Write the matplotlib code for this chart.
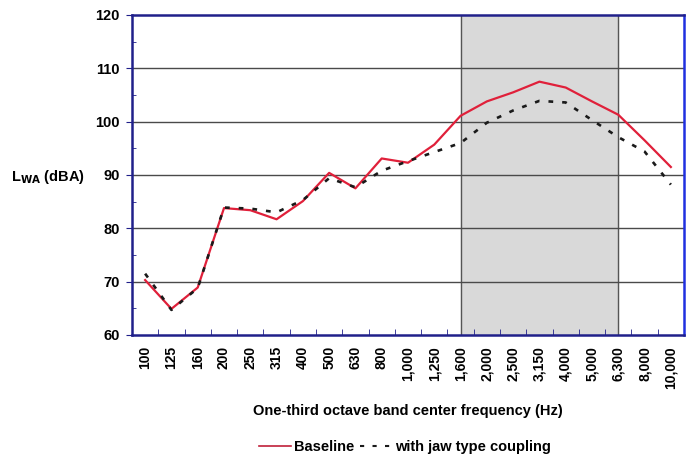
import matplotlib
matplotlib.use("Agg")
import matplotlib.pyplot as plt
from matplotlib.lines import Line2D

plt.rcParams['font.family'] = ['Liberation Sans', 'DejaVu Sans']

freq_labels = ["100", "125", "160", "200", "250", "315", "400", "500", "630", "800",
               "1,000", "1,250", "1,600", "2,000", "2,500", "3,150", "4,000", "5,000",
               "6,300", "8,000", "10,000"]
baseline = [70.3, 64.9, 68.9, 83.8, 83.4, 81.7, 85.1, 90.4, 87.5, 93.1, 92.3, 95.7,
            101.1, 103.8, 105.5, 107.5, 106.4, 103.8, 101.3, 96.5, 91.5]
jaw = [71.5, 64.7, 68.8, 83.9, 83.7, 83.0, 85.3, 89.4, 87.7, 90.8, 92.6, 94.3,
       96.0, 99.8, 102.1, 103.9, 103.6, 100.3, 97.1, 94.4, 88.2]
shade_start = "1,600"
shade_end = "6,300"

fig = plt.figure(figsize=(6.91, 4.59), dpi=100)
ax = fig.add_axes([132/691, 1-335/459, (684-132)/691, (335-15)/459])

x = list(range(len(freq_labels)))
i0 = freq_labels.index(shade_start)
i1 = freq_labels.index(shade_end)
ax.axvspan(i0, i1, color='#d9d9d9', zorder=0)
ax.axvline(i0, color='#555555', lw=1, zorder=1)
ax.axvline(i1, color='#555555', lw=1, zorder=1)

for yv in [70, 80, 90, 100, 110]:
    ax.axhline(yv, color='#4a4a4a', lw=1, zorder=1)

ax.plot(x, baseline, color='#e0203a', lw=1.6, zorder=3)
ax.plot(x, jaw, color='#1a1a1a', lw=1.9, dashes=(1.8, 3.4), zorder=4)

ax.set_xlim(-0.5, len(freq_labels) - 0.5)
ax.set_ylim(60, 120)
ax.set_yticks(range(60, 121, 10))
ax.set_yticks(range(65, 120, 10), minor=True)
ax.set_yticklabels([str(v) for v in range(60, 121, 10)], fontweight='bold', fontsize=10.5)
ax.tick_params(axis='y', which='major', length=4, direction='out', color='#20208a', pad=5)
ax.tick_params(axis='y', which='minor', length=3, direction='in', color='#20208a')

ax.set_xticks(x)
ax.set_xticklabels(freq_labels, rotation=90, fontweight='bold', fontsize=10)
ax.set_xticks([i - 0.5 for i in range(len(freq_labels) + 1)], minor=True)
ax.tick_params(axis='x', which='major', length=0, pad=8)
ax.tick_params(axis='x', which='minor', length=4, direction='in', color='#20208a')

for s in ['left', 'bottom', 'top']:
    ax.spines[s].set_color('#20208a')
    ax.spines[s].set_linewidth(1.8)
ax.spines['right'].set_color('#2030e0')
ax.spines['right'].set_linewidth(1.8)

fig.text(11/691, 1-177/459, r"L$_{\mathbf{WA}}$ (dBA)", fontweight='bold', fontsize=10.5,
         va='center', ha='left')
fig.text(408/691, 1-411/459, "One-third octave band center frequency (Hz)",
         fontweight='bold', fontsize=10.5, ha='center', va='center')

handles = [Line2D([], [], color='#c0203a', lw=1.2),
           Line2D([], [], color='#1a1a1a', lw=1.5, dashes=(2, 4))]
fig.legend(handles, ["Baseline", "with jaw type coupling"], loc='center',
           bbox_to_anchor=(405/691, 1-447/459), ncol=2, frameon=False,
           prop={'weight': 'bold', 'size': 10.5}, handlelength=2.2,
           handletextpad=0.2, columnspacing=0.4)

fig.savefig("out.png", dpi=100)
